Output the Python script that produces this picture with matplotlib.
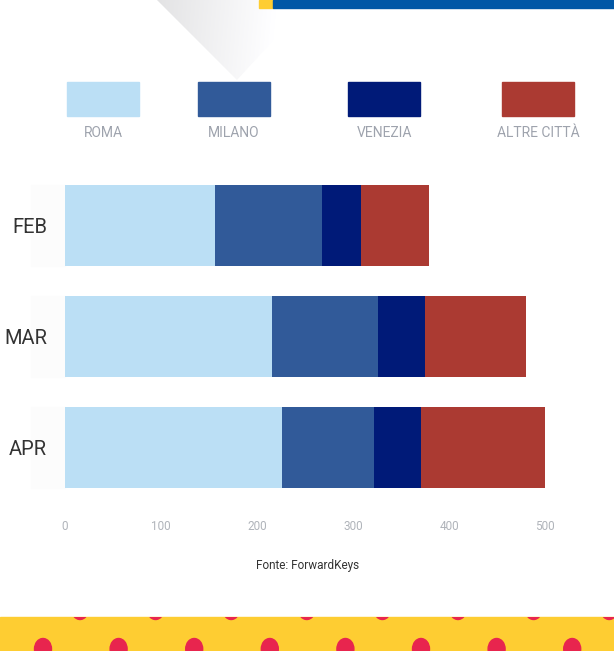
import matplotlib.pyplot as plt
import numpy as np
from matplotlib.patches import Rectangle, Polygon, Ellipse

plt.rcParams['font.family'] = ['Roboto', 'DejaVu Sans']

# data
months = ['FEB', 'MAR', 'APR']
cities = ['ROMA', 'MILANO', 'VENEZIA', 'ALTRE CITTÀ']
roma = [156, 216, 226]
milano = [112, 110, 96]
venezia = [40, 49, 49]
altre = [71, 105, 129]
ticks = [0, 100, 200, 300, 400, 500]
colors = ['#bbdff5', '#315a99', '#001a78', '#ab3a32']
source = 'Fonte: ForwardKeys'

W, H = 614, 651
fig = plt.figure(figsize=(W / 100, H / 100), dpi=100)
fig.patch.set_facecolor('white')

# background axes in pixel coords for decorations
bg = fig.add_axes([0, 0, 1, 1])
bg.set_xlim(0, W)
bg.set_ylim(H, 0)
bg.axis('off')

# grey gradient triangle at top, fading from the left edge and toward the tip
tri = Polygon([(157, 0), (310, 0), (237, 80)], closed=True, facecolor='none', edgecolor='none')
bg.add_patch(tri)
xx, yy = np.meshgrid(np.linspace(157, 310, 160), np.linspace(0, 80, 90))
edge_x = 157 + yy
d = np.clip((xx - edge_x) / 120, 0, 1)
shade = 0.89 + 0.11 * d + 0.08 * (yy / 80)
shade = np.clip(shade, 0, 1)
rgba = np.dstack([shade, shade, np.clip(shade + 0.005, 0, 1), np.ones_like(shade)])
img = bg.imshow(rgba, extent=(157, 310, 80, 0), aspect='auto', zorder=1)
img.set_clip_path(tri)

# top stripes
bg.add_patch(Rectangle((259, 0), 14, 8, color='#fecd32', zorder=2))
bg.add_patch(Rectangle((273, 0), W - 273, 8, color='#0057a6', zorder=2))

# legend
leg_x = [67, 198, 348, 502]
for x, c, name in zip(leg_x, colors, cities):
    bg.add_patch(Rectangle((x, 82), 72, 34, color=c, zorder=2))
    bg.text(x + 36, 133, name, ha='center', va='center', fontsize=10,
            color='#9ea3ad', zorder=3)

# faint label backgrounds
for y0 in [185, 296, 407]:
    bg.add_patch(Rectangle((31, y0), 34, 81, color='#fcfcfc', zorder=1))

# source
bg.text(308, 565, source, ha='center', va='center', fontsize=8.5, color='#333333')

# bottom dotted band
bg.add_patch(Rectangle((0, 617), W, H - 617, color='#fecd32', zorder=2))
clip = Rectangle((0, 617), W, H - 617, transform=bg.transData)
for k in range(9):
    for cx, cy in [(80 + 75.6 * k, 609), (43 + 75.6 * k, 649)]:
        e = Ellipse((cx, cy), 17, 21, color='#e8254e', zorder=3)
        bg.add_patch(e)
        e.set_clip_path(clip)

# main chart
ax = fig.add_axes([65 / W, 1 - 503 / H, (W - 65) / W, 333 / H])
ax.patch.set_alpha(0)
y = np.arange(len(months))
left = np.zeros(len(months))
for vals, c in zip([roma, milano, venezia, altre], colors):
    ax.barh(y, vals, left=left, height=0.73, color=c, zorder=2)
    left = left + np.array(vals)
ax.set_xlim(0, (W - 65) / 0.96)
ax.set_ylim(2.5, -0.5)
ax.set_yticks(y)
ax.set_yticklabels(months, fontsize=14.5, color='#333333')
ax.set_xticks(ticks)
ax.set_xticklabels([str(t) for t in ticks], fontsize=8.5, color='#b0b4ba')
ax.tick_params(axis='y', length=0, pad=13)
ax.tick_params(axis='x', length=0, pad=12)
for s in ax.spines.values():
    s.set_visible(False)

fig.savefig('out.png', dpi=100)
